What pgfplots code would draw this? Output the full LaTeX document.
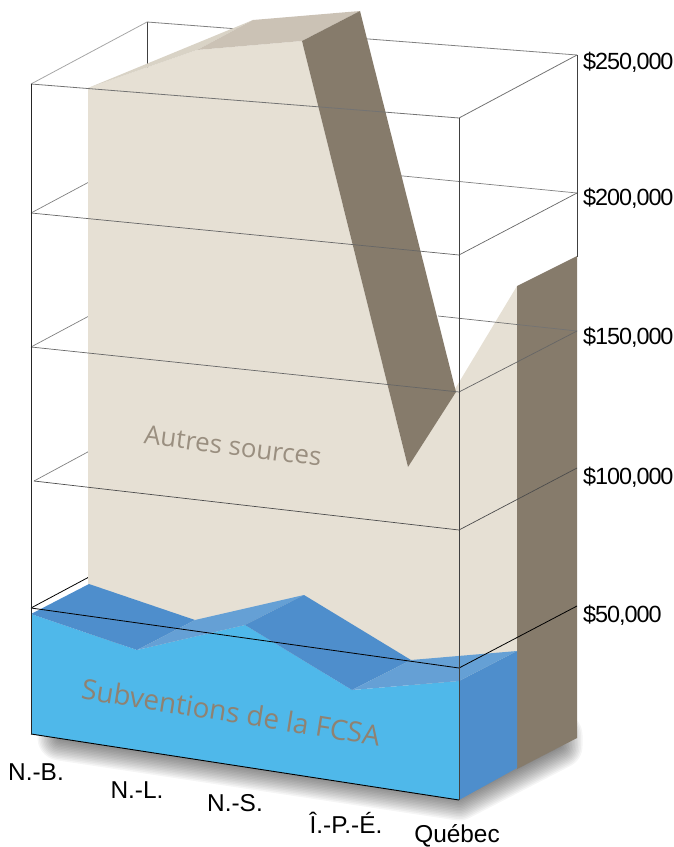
\documentclass[border=0pt]{standalone}
\usepackage{fontspec}
\setmainfont{Liberation Sans}
\newfontfamily\myr{Open Sans}
\newfontfamily\vallab[LetterSpace=-4.5]{Liberation Sans}
\usepackage{pgfplots}
\pgfplotsset{compat=1.18}
\definecolor{beige}{HTML}{E6E0D4}
\definecolor{taupe}{HTML}{867B6B}
\definecolor{topc}{HTML}{CBC2B5}
\definecolor{sliver}{HTML}{D9D3C6}
\definecolor{skyb}{HTML}{4FB8EA}
\definecolor{darkb}{HTML}{4E8ECC}
\definecolor{lightb}{HTML}{65A0D5}
\definecolor{lab}{HTML}{8F8272}
\begin{document}
\begin{tikzpicture}
\begin{axis}[name=ax, hide axis, scale only axis, width=674bp, height=847bp,
  xmin=0, xmax=674, ymin=0, ymax=847, y dir=reverse, clip=false, no markers]
\addplot[draw=none] coordinates {(0,0) (674,847)};
% shadow
\pgfplotsinvokeforeach{3,6,9,12,15,18,21,24,27,30,33,36,39,42,45}{
  \addplot[draw=black, draw opacity=0.04, line width=#1bp, line join=round, line cap=round]
    coordinates {(60,738) (459,798) (560,746) (560,735)};
}
% white back of the box, back grid lines
\addplot[draw=gray!70, line width=0.8bp] coordinates {(31,84) (147,22)};
\addplot[draw=black!75, line width=0.8bp] coordinates {(147,22) (147,70)};
\addplot[draw=gray, line width=0.8bp] coordinates {(147,22) (577,55)};
\addplot[draw=gray, line width=0.7bp] coordinates {(147,151) (577,193)};
\addplot[draw=gray, line width=0.7bp] coordinates {(31,213) (147,151)};
\addplot[draw=gray, line width=0.7bp] coordinates {(31,347) (147,285)};
\addplot[draw=gray, line width=0.7bp] coordinates {(34,481) (147,420)};
\addplot[draw=black, line width=0.8bp] coordinates {(31,608) (147,546)};
% Autres sources
\addplot[fill=beige, draw=none] coordinates {(88,88) (197,50) (302,41) (408,467) (517,286) (517,700) (88,640)} --cycle;
\addplot[fill=sliver, draw=none] coordinates {(88,88) (253,20) (197,50)} --cycle;
\addplot[fill=topc, draw=none] coordinates {(197,50) (253,20) (360,11) (302,41)} --cycle;
\addplot[fill=taupe, draw=none] coordinates {(302,41) (360,11) (456,392) (408,467)} --cycle;
\addplot[fill=taupe, draw=none] coordinates {(517,286) (577,256) (577,738) (517,769)} --cycle;
\addplot[draw=gray!90!black, line width=0.7bp] coordinates {(438,316) (577,331)};
\addplot[draw=black!75, line width=0.8bp] coordinates {(577,55) (577,257)};
% Subventions
\addplot[fill=skyb, draw=none] coordinates {(31,614) (137,650) (245,625) (352,690) (459,681) (459,800) (31,734)} --cycle;
\addplot[fill=darkb, draw=none] coordinates {(459,681) (517,651) (517,768) (459,800)} --cycle;
\addplot[fill=darkb, draw=none] coordinates {(31,614) (89,584) (195,620) (137,650)} --cycle;
\addplot[fill=lightb, draw=none] coordinates {(137,650) (195,620) (304,595) (245,625)} --cycle;
\addplot[fill=darkb, draw=none] coordinates {(245,625) (304,595) (411,660) (352,690)} --cycle;
\addplot[fill=lightb, draw=none] coordinates {(352,690) (411,660) (517,651) (459,681)} --cycle;
% front grid lines
\addplot[draw=gray!90!black, line width=0.8bp] coordinates {(31,84) (459,118) (577,55)};
\addplot[draw=gray!80!black, line width=0.7bp] coordinates {(31,213) (459,255) (577,193)};
\addplot[draw=gray!80!black, line width=0.7bp] coordinates {(31,347) (459,392) (577,331)};
\addplot[draw=black!70, line width=0.7bp] coordinates {(34,481) (459,530) (577,468)};
\addplot[draw=black, line width=0.8bp] coordinates {(31,608) (459,668) (577,606)};
\addplot[draw=black, line width=0.9bp] coordinates {(31,734) (459,800)};
\addplot[draw=black!85, line width=0.9bp] coordinates {(31,84) (31,734)};
\addplot[draw=black!75, line width=0.9bp] coordinates {(459,118) (459,800)};
% value labels
\node[anchor=west, font=\vallab\fontsize{23.5}{23.5}\selectfont, inner sep=0pt] at (axis cs:583,62) {\$250,000};
\node[anchor=west, font=\vallab\fontsize{23.5}{23.5}\selectfont, inner sep=0pt] at (axis cs:583,198) {\$200,000};
\node[anchor=west, font=\vallab\fontsize{23.5}{23.5}\selectfont, inner sep=0pt] at (axis cs:583,337) {\$150,000};
\node[anchor=west, font=\vallab\fontsize{23.5}{23.5}\selectfont, inner sep=0pt] at (axis cs:583,477) {\$100,000};
\node[anchor=west, font=\vallab\fontsize{23.5}{23.5}\selectfont, inner sep=0pt] at (axis cs:583,615) {\$50,000};
% categories
\node[font=\fontsize{24.5}{24.5}\selectfont, inner sep=0pt] at (axis cs:36,772) {N.-B.};
\node[font=\fontsize{24.5}{24.5}\selectfont, inner sep=0pt] at (axis cs:137,790) {N.-L.};
\node[font=\fontsize{24.5}{24.5}\selectfont, inner sep=0pt] at (axis cs:235,803) {N.-S.};
\node[font=\fontsize{24.5}{24.5}\selectfont, inner sep=0pt] at (axis cs:346,823) {Î.-P.-É.};
\node[anchor=base, font=\fontsize{24.5}{24.5}\selectfont, inner sep=0pt] at (axis cs:457,842) {Québec};
% series labels
\node[rotate=-7.3, text=lab!90!white, font=\myr\fontsize{26}{26}\selectfont, inner sep=0pt] at (axis cs:233,446) {Autres sources};
\node[rotate=-9, text=lab, font=\myr\fontsize{28}{28}\selectfont, inner sep=0pt] at (axis cs:231,712) {Subventions de la FCSA};
\end{axis}
\pgfresetboundingbox
\path[use as bounding box] (ax.south west) rectangle (ax.north east);
\end{tikzpicture}
\end{document}
